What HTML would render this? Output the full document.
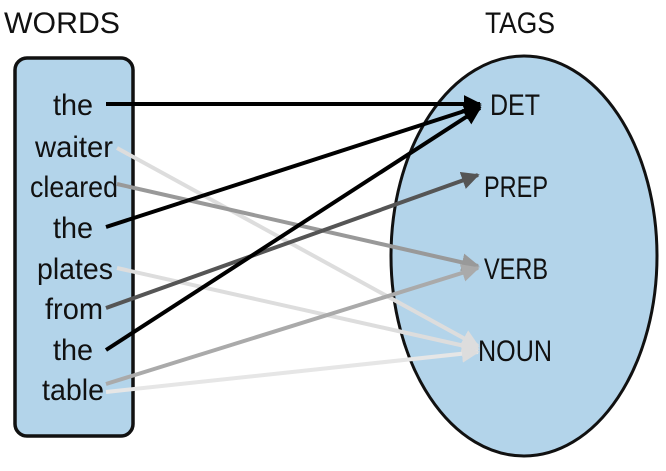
<!DOCTYPE html>
<html><head><meta charset="utf-8"><style>
html,body{margin:0;padding:0;background:#fff;width:666px;height:471px;overflow:hidden}
text{font-family:"Liberation Sans Narrow","Liberation Sans",sans-serif;font-size:30px;fill:#111}
</style></head><body>
<svg width="666" height="471" viewBox="0 0 666 471" xmlns="http://www.w3.org/2000/svg">
<defs>
<marker id="m0" viewBox="0 0 10 10" refX="9" refY="5" markerWidth="4.5" markerHeight="4.5" orient="auto"><path d="M0,0 L10,5 L0,10 z" fill="#000"/></marker>
<marker id="m1" viewBox="0 0 10 10" refX="9" refY="5" markerWidth="4.5" markerHeight="4.5" orient="auto"><path d="M0,0 L10,5 L0,10 z" fill="#555"/></marker>
<marker id="m2" viewBox="0 0 10 10" refX="9" refY="5" markerWidth="4.5" markerHeight="4.5" orient="auto"><path d="M0,0 L10,5 L0,10 z" fill="#999"/></marker>
<marker id="m3" viewBox="0 0 10 10" refX="9" refY="5" markerWidth="4.5" markerHeight="4.5" orient="auto"><path d="M0,0 L10,5 L0,10 z" fill="#aaa"/></marker>
<marker id="m4" viewBox="0 0 10 10" refX="9" refY="5" markerWidth="4.5" markerHeight="4.5" orient="auto"><path d="M0,0 L10,5 L0,10 z" fill="#ddd"/></marker>
</defs>
<text x="4" y="33" textLength="116" lengthAdjust="spacingAndGlyphs">WORDS</text>
<text x="485" y="33" textLength="70" lengthAdjust="spacingAndGlyphs">TAGS</text>
<rect x="15" y="58" width="118" height="378" rx="12" fill="#b3d4ea" stroke="#111" stroke-width="3.5"/>
<ellipse cx="524" cy="256" rx="133" ry="200" fill="#b3d4ea" stroke="#111" stroke-width="3"/>
<text x="53" y="115" textLength="40" lengthAdjust="spacingAndGlyphs">the</text>
<text x="35" y="157" textLength="78" lengthAdjust="spacingAndGlyphs">waiter</text>
<text x="30" y="197" textLength="88" lengthAdjust="spacingAndGlyphs">cleared</text>
<text x="53" y="238" textLength="40" lengthAdjust="spacingAndGlyphs">the</text>
<text x="37" y="279" textLength="76" lengthAdjust="spacingAndGlyphs">plates</text>
<text x="45" y="319" textLength="58" lengthAdjust="spacingAndGlyphs">from</text>
<text x="53" y="360" textLength="40" lengthAdjust="spacingAndGlyphs">the</text>
<text x="42" y="400" textLength="62" lengthAdjust="spacingAndGlyphs">table</text>
<text x="490" y="115" textLength="50" lengthAdjust="spacingAndGlyphs">DET</text>
<text x="484" y="197" textLength="64" lengthAdjust="spacingAndGlyphs">PREP</text>
<text x="484" y="279" textLength="64" lengthAdjust="spacingAndGlyphs">VERB</text>
<text x="478" y="361" textLength="74" lengthAdjust="spacingAndGlyphs">NOUN</text>
<g stroke-width="4" fill="none">
<line x1="117" y1="148" x2="478" y2="346" stroke="#ddd" marker-end="url(#m4)"/>
<line x1="117" y1="268" x2="478" y2="349" stroke="#ddd" marker-end="url(#m4)"/>
<line x1="106" y1="392" x2="478" y2="352" stroke="#e6e6e6" marker-end="url(#m4)"/>
<line x1="117" y1="184" x2="478" y2="266" stroke="#999" marker-end="url(#m2)"/>
<line x1="106" y1="384" x2="478" y2="268" stroke="#aaa" marker-end="url(#m3)"/>
<line x1="106" y1="308" x2="478" y2="175" stroke="#555" marker-end="url(#m1)"/>
<line x1="106" y1="104" x2="480" y2="104" stroke="#000" marker-end="url(#m0)"/>
<line x1="106" y1="227" x2="480" y2="106" stroke="#000" marker-end="url(#m0)"/>
<line x1="106" y1="350" x2="480" y2="108" stroke="#000" marker-end="url(#m0)"/>
</g>
</svg>
</body></html>
